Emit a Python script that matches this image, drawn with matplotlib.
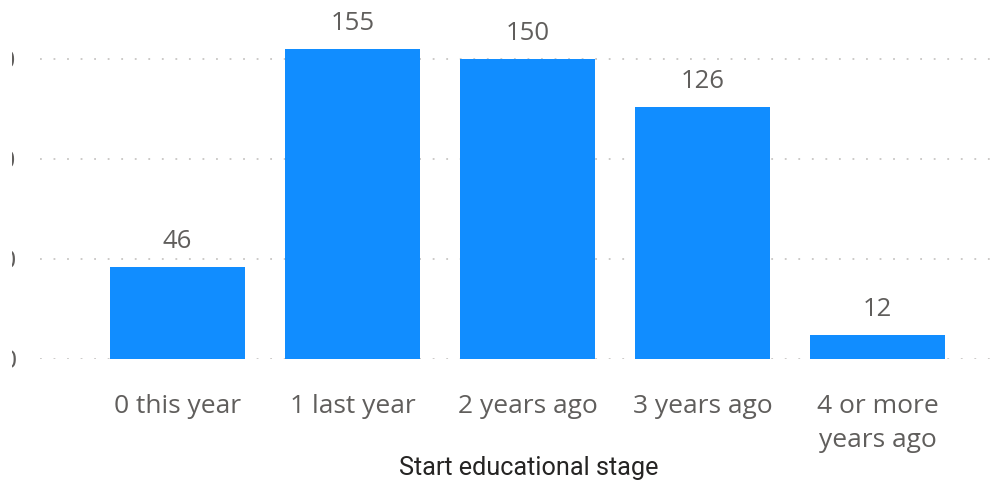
import matplotlib
matplotlib.use("Agg")
import matplotlib.pyplot as plt
from matplotlib.transforms import Bbox, TransformedBbox

categories = ["0 this year", "1 last year", "2 years ago", "3 years ago", "4 or more\nyears ago"]
counts = [46, 155, 150, 126, 12]
y_ticks = [0, 50, 100, 150]

BAR = "#118DFF"
TEXT = "#605E5C"
TITLE = "#252423"
GRID = "#C8C6C4"

W, H = 1002, 484
fig = plt.figure(figsize=(W / 100, H / 100), dpi=100)
ax = fig.add_axes([40 / W, (H - 359) / H, 960 / W, 359 / H])

x = list(range(len(categories)))
ax.bar(x, counts, width=0.771, color=BAR, zorder=2)
for xi, v in zip(x, counts):
    ax.annotate(str(v), (xi, v), xytext=(0, 9.5), textcoords="offset points",
                ha="center", va="bottom", fontsize=18.5, color=TEXT,
                family="Open Sans")

ax.set_xlim(-0.786, 4.7)
ax.set_ylim(0, 179.5)
ax.set_yticks(y_ticks)
ax.set_xticks(x)
ax.set_xticklabels(categories, fontsize=19, color=TEXT, family="Open Sans",
                   linespacing=1.45)
ax.tick_params(axis="x", length=0, pad=25.5)
ax.tick_params(axis="y", length=0, pad=17, labelsize=19, labelcolor=TEXT)

# the value axis labels sit partly outside the visible canvas
for lab in ax.get_yticklabels():
    lab.set_family("Open Sans")
    lab.set_clip_box(TransformedBbox(Bbox([[12 / W, 0], [1, 1]]), fig.transFigure))
    lab.set_clip_on(True)

ax.yaxis.grid(True, color=GRID, linewidth=1.3, linestyle=(0, (1, 6.5)), zorder=0)
ax.set_axisbelow(True)
for s in ax.spines.values():
    s.set_visible(False)

fig.text(529 / W, 1 - 468 / H, "Start educational stage", ha="center", va="center",
         fontsize=18.2, color=TITLE, family="Roboto")

fig.savefig("out.png", dpi=100, facecolor="white")
